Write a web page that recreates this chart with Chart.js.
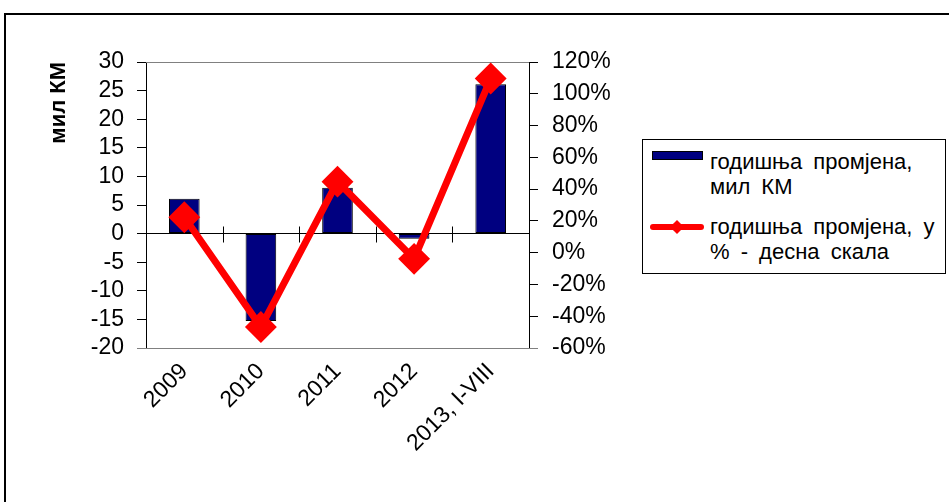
<!DOCTYPE html>
<html>
<head>
<meta charset="utf-8">
<script src="https://cdn.jsdelivr.net/npm/chart.js@4"></script>
<style>
  body { margin: 0; background: #fff; }
  #wrap { position: relative; width: 949px; height: 502px; overflow: hidden; }
  #frame { position: absolute; left: 4px; top: 13px; width: 980px; height: 520px; border: 2px solid #000; }
  #chart { position: absolute; left: 0; top: 0; }
  #legend { position: absolute; left: 642px; top: 139px; width: 302px; height: 133px; border: 1px solid #000;
            font-family: "Liberation Sans", Arial, sans-serif; font-size: 22px; color: #000; background: #fff; }
  .item { position: absolute; left: 67px; line-height: 25px; word-spacing: 5px; white-space: nowrap; }
  .sw { position: absolute; }
</style>
</head>
<body>
<div id="wrap">
  <div id="frame"></div>
  <canvas id="chart" width="949" height="502"></canvas>
  <div id="legend">
    <div class="sw" style="left:9px;top:11px;width:49px;height:7px;background:#000080;border:1px solid #000;"></div>
    <div class="item" style="top:9px;">годишња промјена,<br>мил КМ</div>
    <div class="sw" style="left:7px;top:84px;width:54px;height:6px;background:#ff0000;border-radius:3px;"></div>
    <div class="sw" style="left:29px;top:82px;width:10px;height:10px;background:#ff0000;transform:rotate(45deg);"></div>
    <div class="item" style="top:74px;">годишња промјена, у<br>% - десна скала</div>
  </div>
</div>
<script>
// values
const categories = ["2009", "2010", "2011", "2012", "2013, I-VIII"];
const changeMil = [6.1, -15.3, 8.0, -0.9, 26.1];
const changePct = [22.3, -46.8, 44.7, -3.9, 109.6];

const font = { family: '"Liberation Sans", Arial, sans-serif', size: 23 };

// plot frame + cross ticks on the zero line
const framePlugin = {
    id: 'frame',
    beforeDatasetsDraw(chart) {
        const { ctx, chartArea: a, scales } = chart;
        ctx.save();
        ctx.strokeStyle = '#808080';
        ctx.lineWidth = 1;
        ctx.beginPath();
        ctx.moveTo(a.left, a.top + 0.5); ctx.lineTo(a.right, a.top + 0.5);
        ctx.moveTo(a.left - 9, a.bottom + 0.5); ctx.lineTo(a.right + 9, a.bottom + 0.5);
        ctx.stroke();
        const y0 = Math.round(scales.y.getPixelForValue(0)) + 0.5;
        const n = categories.length;
        const step = (a.right - a.left) / n;
        ctx.strokeStyle = '#000';
        ctx.beginPath();
        for (let i = 1; i < n; i++) {
            const x = Math.round(a.left + i * step) + 0.5;
            ctx.moveTo(x, y0 - 8); ctx.lineTo(x, y0 + 8);
        }
        ctx.stroke();
        ctx.restore();
    }
};

const ctx = document.getElementById('chart').getContext('2d');
const chart = new Chart(ctx, {
    type: 'bar',
    data: {
        labels: categories,
        datasets: [{
            type: 'line',
            label: 'годишња промјена, у % - десна скала',
            data: changePct,
            yAxisID: 'y1',
            borderColor: '#ff0000',
            backgroundColor: '#ff0000',
            borderWidth: 7,
            pointStyle: 'rectRot',
            pointRadius: 11,
            pointHoverRadius: 11,
            tension: 0,
            order: 0
        }, {
            label: 'годишња промјена, мил КМ',
            data: changeMil,
            yAxisID: 'y',
            backgroundColor: '#000080',
            borderColor: '#000',
            borderWidth: 1,
            borderSkipped: false,
            categoryPercentage: 1,
            barPercentage: 0.4,
            order: 1
        }]
    },
    options: {
        responsive: false,
        animation: false,
        layout: { padding: { top: 62, left: 0, right: 0, bottom: 0 } },
        plugins: {
            legend: { display: false },
            tooltip: { enabled: false }
        },
        scales: {
            x: {
                grid: { display: false },
                border: { display: false },
                ticks: { font: font, color: '#000', minRotation: 45, maxRotation: 45, padding: 2, autoSkip: false },
                afterFit(s) { s.height = 154; }
            },
            y: {
                position: 'left',
                min: -20, max: 30,
                ticks: { stepSize: 5, font: font, color: '#000', padding: 13, autoSkip: false },
                grid: {
                    color: c => c.tick && c.tick.value === 0 ? '#000' : 'rgba(0,0,0,0)',
                    tickColor: '#000',
                    tickLength: 9
                },
                border: { color: '#000', width: 1 },
                title: {
                    display: true, text: 'мил КМ', align: 'end', color: '#000',
                    font: { family: font.family, size: 22, weight: 'bold' },
                    padding: { top: 46, bottom: 0 }
                },
                afterFit(s) { s.width = 146; }
            },
            y1: {
                position: 'right',
                min: -60, max: 120,
                ticks: { stepSize: 20, font: font, color: '#000', padding: 14, autoSkip: false, callback: v => v + '%' },
                grid: { drawOnChartArea: false, tickColor: '#000', tickLength: 9 },
                border: { color: '#000', width: 1 },
                afterFit(s) { s.width = 420; }
            }
        }
    },
    plugins: [framePlugin]
});
</script>
</body>
</html>
